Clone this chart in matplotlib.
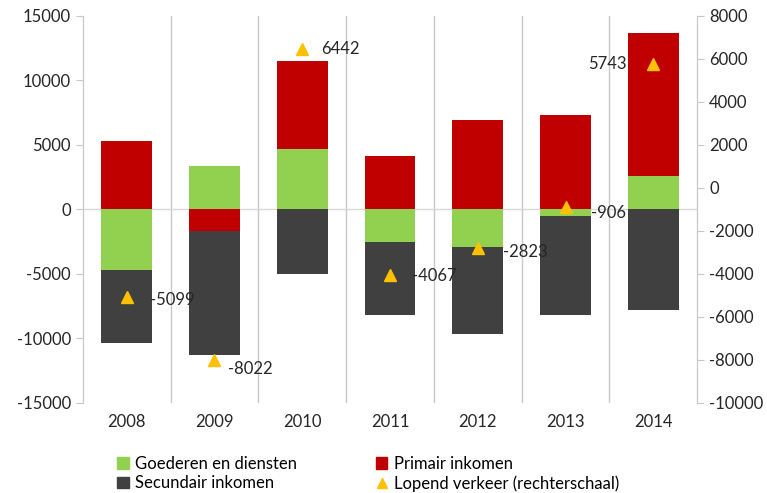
import matplotlib.pyplot as plt
import numpy as np
from matplotlib.lines import Line2D
from matplotlib.patches import Patch

plt.rcParams['font.family'] = ['Lato', 'DejaVu Sans']
plt.rcParams['axes.unicode_minus'] = False

years = ['2008', '2009', '2010', '2011', '2012', '2013', '2014']
goederen = [-4700, 3350, 4700, -2500, -2900, -500, 2600]
primair = [5300, -1700, 6800, 4100, 6900, 7300, 11100]
secundair = [-5700, -9600, -5000, -5700, -6800, -7700, -7800]
lopend = [-5099, -8022, 6442, -4067, -2823, -906, 5743]

green = '#92D050'
red = '#C00000'
dark = '#404040'
orange = '#FFC000'
grid = '#C8C8C8'

fig = plt.figure(figsize=(7.67, 4.93), dpi=100)
ax = fig.add_axes([0.108, 0.183, 0.801, 0.785])
ax2 = ax.twinx()

x = np.arange(len(years))
w = 0.58
pos = np.zeros(len(years))
neg = np.zeros(len(years))
for vals, col in [(goederen, green), (primair, red), (secundair, dark)]:
    vals = np.array(vals, dtype=float)
    base = np.where(vals >= 0, pos, neg)
    ax.bar(x, vals, w, bottom=base, color=col, zorder=3)
    pos += np.where(vals >= 0, vals, 0)
    neg += np.where(vals < 0, vals, 0)

for k in range(len(years) - 1):
    ax.axvline(k + 0.5, color=grid, lw=1, zorder=1)
ax.axhline(0, color='#D9D9D9', lw=1, zorder=2)

ax.set_xlim(-0.5, len(years) - 0.5)
ax.set_ylim(-15000, 15000)
ax.set_yticks(range(-15000, 15001, 5000))
ax.set_xticks(x)
ax.set_xticklabels(years)

ax2.set_ylim(-10000, 8000)
ax2.set_yticks(range(-10000, 8001, 2000))
ax2.plot(x, lopend, '^', color=orange, markersize=8, zorder=5)

# label offsets in pixels
offsets = [(23, -3), (14, -9), (19, 0), (22, -1), (25, -4), (25, -6), (-27, 0)]
for xi, v, (dx, dy) in zip(x, lopend, offsets):
    ax2.annotate(str(v), (xi, v), xytext=(dx, dy), textcoords='offset pixels',
                 ha='left' if dx > 0 else 'right', va='center', fontsize=12,
                 color='#262626')

for a in (ax, ax2):
    for s in ['top', 'bottom']:
        a.spines[s].set_visible(False)
    a.spines['left'].set_color(grid)
    a.spines['right'].set_color(grid)
    a.tick_params(colors=grid, labelcolor='#262626', labelsize=12, length=5)
ax.tick_params(axis='x', length=0, pad=8)
ax.set_zorder(ax2.get_zorder() - 1)
ax.patch.set_visible(True)
ax2.patch.set_visible(False)

handles = [
    Patch(color=green, label='Goederen en diensten'),
    Patch(color=dark, label='Secundair inkomen'),
    Patch(color=red, label='Primair inkomen'),
    Line2D([], [], marker='^', color=orange, ls='none', markersize=7,
           label='Lopend verkeer (rechterschaal)'),
]
fig.legend(handles=handles, ncol=2, loc='lower left', bbox_to_anchor=(0.133, -0.028),
           frameon=False, fontsize=12, handlelength=0.7, handleheight=0.7,
           handletextpad=0.4, columnspacing=4.7, labelspacing=0.2)

fig.savefig('out.png', dpi=100)
